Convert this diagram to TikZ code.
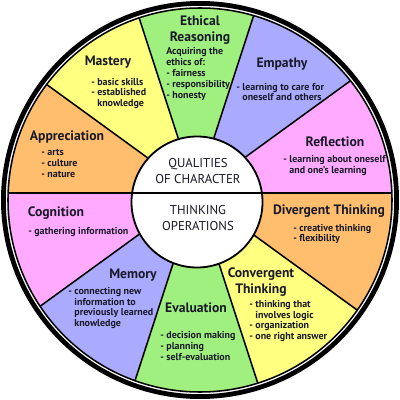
\documentclass[tikz,border=0pt]{standalone}
\usepackage{fontspec}
\setmainfont{PT Sans}
\usepackage{tikz}

\definecolor{wpink}{RGB}{255,170,255}
\definecolor{wblue}{RGB}{170,170,255}
\definecolor{wgreen}{RGB}{160,240,128}
\definecolor{wyellow}{RGB}{255,255,128}
\definecolor{wpeach}{RGB}{255,190,110}
\definecolor{ink}{RGB}{25,25,40}

\begin{document}
\begin{tikzpicture}[x=0.025cm, y=0.025cm,
  sectortitle/.style={font=\bfseries\fontsize{9.7}{11.4}\selectfont, align=center, inner sep=0pt, text=ink},
  sectortext/.style={font=\bfseries\fontsize{7.1}{7.7}\selectfont, align=left, anchor=west, inner sep=0pt, text=ink},
  hubtext/.style={font=\fontsize{9.1}{11.4}\selectfont, align=center, inner sep=0pt, text=ink},
  spoke/.style={line width=1.1pt, black}]
  \useasboundingbox (-200,-200) rectangle (200,200);
  \coordinate (c) at (0,0);    % rim centre
  \coordinate (s) at (-4,7);   % where the spokes meet
  \coordinate (h) at (-3,-2);  % hub centre
  % coloured wedges, counterclockwise from the right
  \begin{scope}
    \clip (c) circle (192);
    \foreach \a/\col in {0/wpink,36/wblue,72/wgreen,108/wyellow,144/wpeach,
                         180/wpink,216/wblue,252/wgreen,288/wyellow,324/wpeach}
      \fill[\col] (s) -- ++(\a:400) arc[start angle=\a, delta angle=36, radius=400] -- cycle;
    \foreach \a in {36,72,108,144,216,252,288,324}
      \draw[spoke] (s) -- ++(\a:400);
    % hub
    \draw[line width=1.3pt, fill=white] (h) circle (65.5);
    \draw[line width=1.3pt] (s) -- ++(180:400) (s) -- ++(0:400);
  \end{scope}
  % rim
  \draw[line width=1.1pt] (c) circle (192);
  \draw[line width=3.4pt] (c) circle (196.6);
  \node[hubtext] (qual) at (-2,29) {QUALITIES\\OF CHARACTER};
  \node[hubtext] (oper) at (-2,-18) {THINKING\\OPERATIONS};
  % upper half
  \node[sectortitle] (ethT) at (0,170) {Ethical\\Reasoning};
  \node[sectortext] (ethB) at (-34,126) {Acquiring the\\ethics of:\\- fairness\\- responsibility\\- honesty};
  \node[sectortitle] (masT) at (-92,138) {Mastery};
  \node[sectortext] (masB) at (-109,106.5) {- basic skills\\- established\\\hphantom{- }knowledge};
  \node[sectortitle] (appT) at (-133,63) {Appreciation};
  \node[sectortext] (appB) at (-159,36.5) {- arts\\- culture\\- nature};
  \node[sectortitle] (empT) at (82,136) {Empathy};
  \node[sectortext] (empB) at (36,108) {- learning to care for\\\hphantom{- }oneself and others};
  \node[sectortitle] (refT) at (135,58) {Reflection};
  \node[sectortext] (refB) at (83,34.5) {- learning about oneself\\\hphantom{- }and one's learning};
  % lower half
  \node[sectortitle] (cogT) at (-144,-13) {Cognition};
  \node[sectortext] (cogB) at (-172,-32) {- gathering information};
  \node[sectortitle] (memT) at (-67,-75) {Memory};
  \node[sectortext] (memB) at (-132,-108) {- connecting new\\\hphantom{- }information to\\\hphantom{- }previously learned\\\hphantom{- }knowledge};
  \node[sectortitle] (evaT) at (-4,-108) {Evaluation};
  \node[sectortext] (evaB) at (-40,-146) {- decision making\\- planning\\- self-evaluation};
  \node[sectortitle] (conT) at (61,-82.5) {Convergent\\Thinking};
  \node[sectortext] (conB) at (49,-121) {- thinking that\\\hphantom{- }involves logic\\- organization\\- one right answer};
  \node[sectortitle] (divT) at (129,-11) {Divergent Thinking};
  \node[sectortext] (divB) at (93,-34) {- creative thinking\\- flexibility};
\end{tikzpicture}
\end{document}
